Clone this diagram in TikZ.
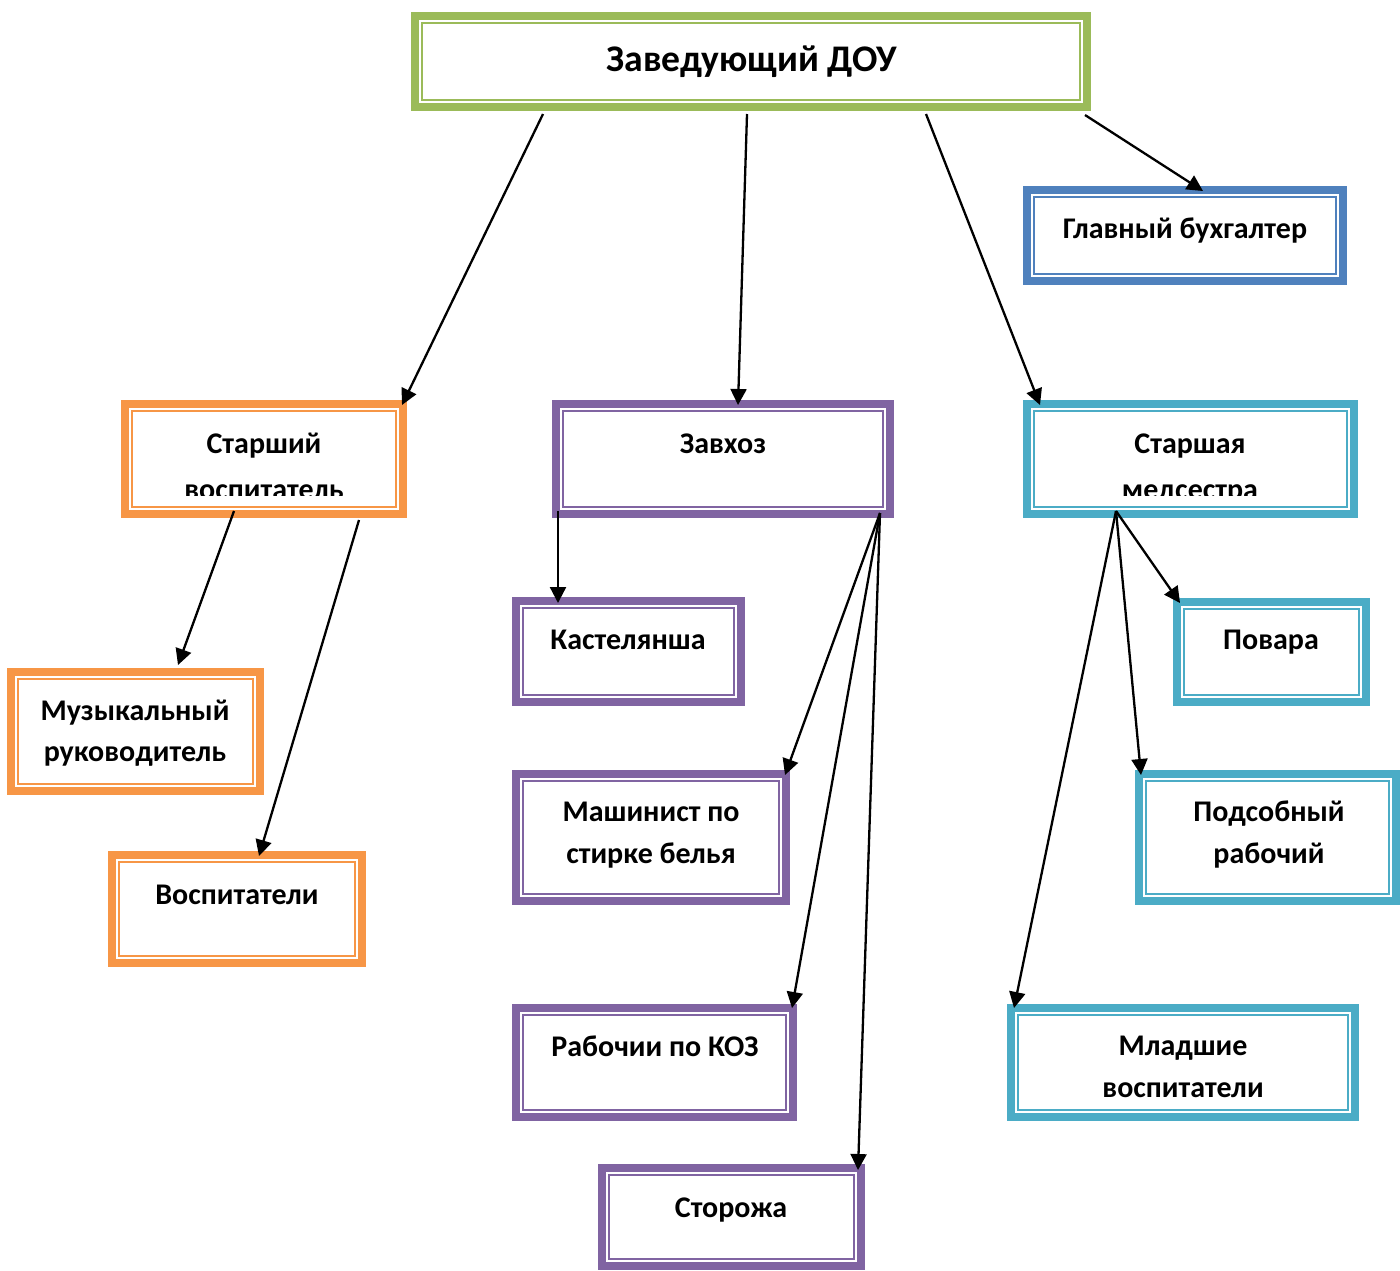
\documentclass[tikz,border=0pt]{standalone}
\usepackage{fontspec}
\setmainfont{Carlito}
\usetikzlibrary{calc,arrows.meta}
\definecolor{cgreen}{HTML}{9BBB59}
\definecolor{cblue}{HTML}{4F81BD}
\definecolor{corange}{HTML}{F79646}
\definecolor{cpurple}{HTML}{8064A2}
\definecolor{caqua}{HTML}{4BACC6}
\tikzset{
  orgframe/.style={fill=white, line width=4pt, inner sep=0pt, outer sep=0pt, anchor=north west},
  innerline/.style={line width=1.1pt},
  lbl/.style={anchor=base, inner sep=0pt, font=\bfseries\fontsize{15}{18}\selectfont},
  title/.style={anchor=base, inner sep=0pt, font=\bfseries\fontsize{18.8}{22}\selectfont},
  arr/.style={line width=1.15pt, -{Triangle[length=8pt,width=8pt]}}
}
\newcommand\orgbox[6]{%
  \node[orgframe, draw=#6, minimum width={(#4-#2-8)*0.5pt}, minimum height={(#5-#3-8)*0.5pt}] (#1) at (#2+4,#3+4) {};
  \draw[#6, innerline] ([shift={(7,7)}]#1.north west) rectangle ([shift={(-7,-7)}]#1.south east);
}
\begin{document}
\begin{tikzpicture}[x=0.5pt,y=-0.5pt]
\useasboundingbox (0,0) rectangle (1400,1270);
\clip (0,0) rectangle (1400,1270);
% boxes
\orgbox{zav}{411}{12}{1091}{111}{cgreen}
\orgbox{gb}{1023}{186}{1347}{285}{cblue}
\orgbox{sv}{121}{400}{407}{518}{corange}
\orgbox{zx}{552}{400}{894}{518}{cpurple}
\orgbox{sm}{1023}{400}{1358}{518}{caqua}
\orgbox{mr}{7}{668}{264}{795}{corange}
\orgbox{vs}{108}{851}{366}{967}{corange}
\orgbox{ks}{512}{597}{745}{706}{cpurple}
\orgbox{ms}{512}{770}{790}{905}{cpurple}
\orgbox{rk}{512}{1004}{797}{1121}{cpurple}
\orgbox{st}{598}{1164}{865}{1270}{cpurple}
\orgbox{pv}{1173}{598}{1370}{706}{caqua}
\orgbox{pr}{1135}{770}{1400}{905}{caqua}
\orgbox{ml}{1007}{1004}{1359}{1121}{caqua}
% texts
\node[title] (t-zav) at (752,71) {Заведующий ДОУ};
\node[lbl] (t-gb) at (1185,238) {Главный бухгалтер};
\node[lbl] (t-sv1) at (264,453) {Старший};
\begin{scope}
  \clip (sv.north west) rectangle ($(sv.south east)+(0,-19)$);
  \node[lbl] (t-sv2) at (264,499) {воспитатель};
\end{scope}
\node[lbl] (t-zx) at (723,453) {Завхоз};
\node[lbl] (t-sm1) at (1190,453) {Старшая};
\begin{scope}
  \clip (sm.north west) rectangle ($(sm.south east)+(0,-19)$);
  \node[lbl] (t-sm2) at (1190,499) {медсестра};
\end{scope}
\node[lbl] (t-mr1) at (135,720) {Музыкальный};
\node[lbl] (t-mr2) at (135,761) {руководитель};
\node[lbl] (t-vs) at (237,904) {Воспитатели};
\node[lbl] (t-ks) at (628,649) {Кастелянша};
\node[lbl] (t-ms1) at (651,821) {Машинист по};
\node[lbl] (t-ms2) at (651,863) {стирке белья};
\node[lbl] (t-rk) at (655,1056) {Рабочии по КОЗ};
\node[lbl] (t-st) at (731,1217) {Сторожа};
\node[lbl] (t-pv) at (1271,649) {Повара};
\node[lbl] (t-pr1) at (1269,821) {Подсобный};
\node[lbl] (t-pr2) at (1269,863) {рабочий};
\node[lbl] (t-ml1) at (1183,1055) {Младшие};
\node[lbl] (t-ml2) at (1183,1097) {воспитатели};
% connectors
\coordinate (zxo) at ($(zx.south east)+(-10,-1)$);
\coordinate (smo) at ($(sm.south west)+(89,-3)$);
\draw[arr] ($(zav.south west)+(128,7)$) -- ($(sv.north east)+(-1,1)$);
\draw[arr] ($(zav.south west)+(332,7)$) -- ($(zx.north west)+(182,1)$);
\draw[arr] ($(zav.south west)+(511,7)$) -- ($(sm.north west)+(13,1)$);
\draw[arr] ($(zav.south east)+(-2,8)$) -- ($(gb.north west)+(176,1)$);
\draw[arr] ($(sv.south west)+(109,-3)$) -- ($(mr.north west)+(167,-7)$);
\draw[arr] ($(sv.south west)+(234,6)$) -- ($(vs.north west)+(147,1)$);
\draw[arr] ($(zx.south west)+(2,-3)$) -- ($(ks.north west)+(42,2)$);
\draw[arr] (zxo) -- ($(ms.north east)+(-1,1)$);
\draw[arr] (zxo) -- ($(rk.north east)+(-1,0)$);
\draw[arr] (zxo) -- ($(st.north east)+(-3,2)$);
\draw[arr] (smo) -- ($(pv.north west)+(3,1)$);
\draw[arr] (smo) -- ($(pr.north west)+(2,1)$);
\draw[arr] (smo) -- ($(ml.north west)+(3,0)$);
\end{tikzpicture}
\end{document}
